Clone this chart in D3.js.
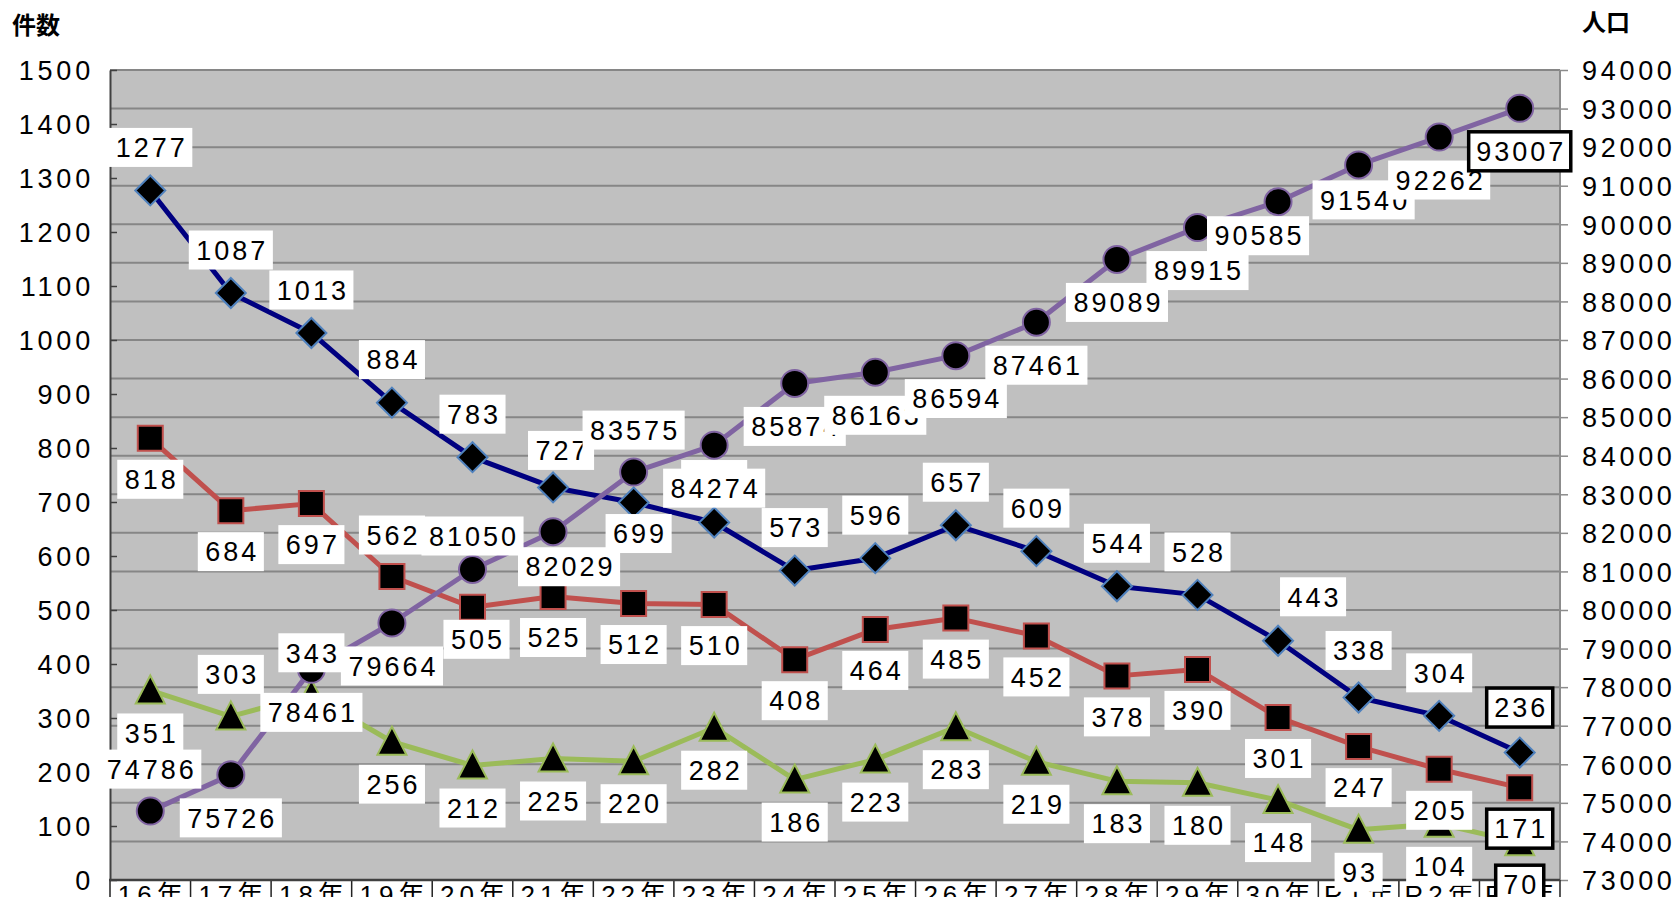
<!DOCTYPE html>
<html>
<head>
<meta charset="utf-8">
<script src="https://cdn.jsdelivr.net/npm/d3@7"></script>
<style>
  body { margin: 0; background: #fff; }
  text { font-family: "Liberation Sans", Arial, "Noto Sans CJK JP", sans-serif; }
</style>
</head>
<body>
<svg id="chart" width="1678" height="897"></svg>
<script>
// Data
var years = ["16年", "17年", "18年", "19年", "20年", "21年", "22年", "23年", "24年",
             "25年", "26年", "27年", "28年", "29年", "30年", "R1年", "R2年", "R3年"];
var totalCount = [1277, 1087, 1013, 884, 783, 727, 699, 662, 573, 596, 657, 609, 544, 528, 443, 338, 304, 236];
var countB = [818, 684, 697, 562, 505, 525, 512, 510, 408, 464, 485, 452, 378, 390, 301, 247, 205, 171];
var countC = [351, 303, 343, 256, 212, 225, 220, 282, 186, 223, 283, 219, 183, 180, 148, 93, 104, 70];
var population = [74786, 75726, 78461, 79664, 81050, 82029, 83575, 84274, 85874, 86163,
                  86594, 87461, 89089, 89915, 90585, 91540, 92262, 93007];
var leftTicks = [0, 100, 200, 300, 400, 500, 600, 700, 800, 900, 1000, 1100, 1200, 1300, 1400, 1500];
var rightTicks = [73000, 74000, 75000, 76000, 77000, 78000, 79000, 80000, 81000, 82000, 83000,
                  84000, 85000, 86000, 87000, 88000, 89000, 90000, 91000, 92000, 93000, 94000];

var svg = d3.select("#chart");
var pLeft = 110, pRight = 1560, pTop = 70, pBottom = 880;

var x = d3.scaleBand().domain(years).range([pLeft, pRight]);
var yL = d3.scaleLinear().domain([0, 1500]).range([pBottom, pTop]);
var yR = d3.scaleLinear().domain([73000, 94000]).range([pBottom, pTop]);
function cx(i) { return x(years[i]) + x.bandwidth() / 2; }

// plot background + gridlines (from right axis)
svg.append("rect")
  .attr("x", pLeft).attr("y", pTop)
  .attr("width", pRight - pLeft).attr("height", pBottom - pTop)
  .attr("fill", "#c0c0c0");

svg.append("g").selectAll("line")
  .data(rightTicks)
  .enter().append("line")
  .attr("x1", pLeft).attr("x2", pRight)
  .attr("y1", function(d) { return yR(d); })
  .attr("y2", function(d) { return yR(d); })
  .attr("stroke", "#868686")
  .attr("stroke-width", 2);

svg.append("line")
  .attr("x1", pRight).attr("x2", pRight).attr("y1", pTop).attr("y2", pBottom)
  .attr("stroke", "#8c8c8c").attr("stroke-width", 2);

// Axes
function styleAxis(g, size, ls) {
  g.attr("font-size", null).attr("font-family", null);
  g.selectAll("text").style("font-size", size + "px").style("letter-spacing", ls + "px").attr("fill", "#000");
}

var axL = svg.append("g")
  .attr("transform", "translate(" + pLeft + ",0)")
  .call(d3.axisLeft(yL).tickValues(leftTicks).tickFormat(d3.format("d"))
    .tickSize(-7).tickPadding(16).tickSizeOuter(0));
axL.select(".domain").attr("stroke", "#404040").attr("stroke-width", 2);
axL.selectAll(".tick line").attr("stroke", "#404040").attr("stroke-width", 1.5);
styleAxis(axL, 27, 3.8);
axL.selectAll("text").attr("dy", "0.36em");

var axR = svg.append("g")
  .attr("transform", "translate(" + pRight + ",0)")
  .call(d3.axisRight(yR).tickValues(rightTicks).tickFormat(d3.format("d"))
    .tickSize(8).tickPadding(14).tickSizeOuter(0));
axR.select(".domain").remove();
axR.selectAll(".tick line").attr("stroke", "#8c8c8c").attr("stroke-width", 1.5);
styleAxis(axR, 27, 3.7);
axR.selectAll("text").attr("dy", "0.36em");

var axB = svg.append("g")
  .attr("transform", "translate(0," + pBottom + ")")
  .call(d3.axisBottom(x).tickSize(0).tickPadding(6));
axB.select(".domain").remove();
styleAxis(axB, 26, 5);
axB.selectAll("text").attr("x", 2.5);

// category separators below the axis
svg.append("g").selectAll("line")
  .data(years.map(function(d) { return x(d); }).concat([pRight]))
  .enter().append("line")
  .attr("x1", function(d) { return d; }).attr("x2", function(d) { return d; })
  .attr("y1", pBottom).attr("y2", 897)
  .attr("stroke", "#222").attr("stroke-width", 1.5);

svg.append("line")
  .attr("x1", pLeft - 1).attr("x2", pRight).attr("y1", pBottom).attr("y2", pBottom)
  .attr("stroke", "#404040").attr("stroke-width", 2.5);

// axis titles
svg.append("text").attr("x", 12).attr("y", 34)
  .style("font-family", "'Noto Sans CJK JP', sans-serif")
  .style("font-weight", "bold").style("font-size", "24px").text("件数");
svg.append("text").attr("x", 1582).attr("y", 31)
  .style("font-family", "'Noto Sans CJK JP', sans-serif")
  .style("font-weight", "bold").style("font-size", "24px").text("人口");

// Series
var shapes = {
  diamond: "M0,-15L15,0L0,15L-15,0Z",
  square: "M-12.5,-12.5H12.5V12.5H-12.5Z",
  triangle: "M0,-15L14.5,13H-14.5Z",
  circle: d3.symbol(d3.symbolCircle, Math.PI * 13.5 * 13.5)()
};

var series = [
  { values: totalCount, scale: yL, line: "#000080", edge: "#4f81bd", shape: "diamond" },
  { values: countB, scale: yL, line: "#c0504d", edge: "#c0504d", shape: "square" },
  { values: countC, scale: yL, line: "#9bbb59", edge: "#9bbb59", shape: "triangle" },
  { values: population, scale: yR, line: "#8064a2", edge: "#8064a2", shape: "circle" }
];

// label placement: default dy per series, plus a few moved labels [dx, dy]
var labelDy = [-43, 41, 42.5, 43];
var labelMoves = [
  { 5: [8, -37], 6: [5, 31], 14: [35, -44], 15: [0, -47], 17: [0, -45] },
  { 3: [0, -41.5], 4: [4, 32] },
  { 1: [0, -42], 2: [0, -42] },
  { 0: [0, -42], 4: [0, -33.5], 5: [16, 35], 6: [0, -42], 14: [-20, 34], 15: [5, 35] }
];

series.forEach(function(s) {
  var line = d3.line()
    .x(function(d, i) { return cx(i); })
    .y(function(d) { return s.scale(d); });
  svg.append("path")
    .attr("d", line(s.values))
    .attr("fill", "none")
    .attr("stroke", s.line)
    .attr("stroke-width", 5)
    .attr("stroke-linejoin", "round");
  svg.append("g").selectAll("path")
    .data(s.values)
    .enter().append("path")
    .attr("transform", function(d, i) { return "translate(" + cx(i) + "," + s.scale(d) + ")"; })
    .attr("d", shapes[s.shape])
    .attr("fill", "#000")
    .attr("stroke", s.edge)
    .attr("stroke-width", 2);
});

var labels = svg.append("g");
series.forEach(function(s, k) {
  s.values.forEach(function(v, i) {
    var mv = labelMoves[k][i] || [0, labelDy[k]];
    var g = labels.append("g")
      .attr("transform", "translate(" + (cx(i) + mv[0]) + "," + (s.scale(v) + mv[1]) + ")");
    var r = g.append("rect");
    var t = g.append("text")
      .attr("text-anchor", "middle")
      .attr("x", 1.5)
      .attr("dy", "0.36em")
      .style("font-size", "27px")
      .style("letter-spacing", "3px")
      .text(v);
    var w = t.node().getComputedTextLength() + 12;
    r.attr("x", -w / 2).attr("y", -19.5).attr("width", w).attr("height", 39).attr("fill", "#fff");
    if (i == s.values.length - 1) r.attr("stroke", "#000").attr("stroke-width", 3.5);
  });
});
</script>
</body>
</html>
